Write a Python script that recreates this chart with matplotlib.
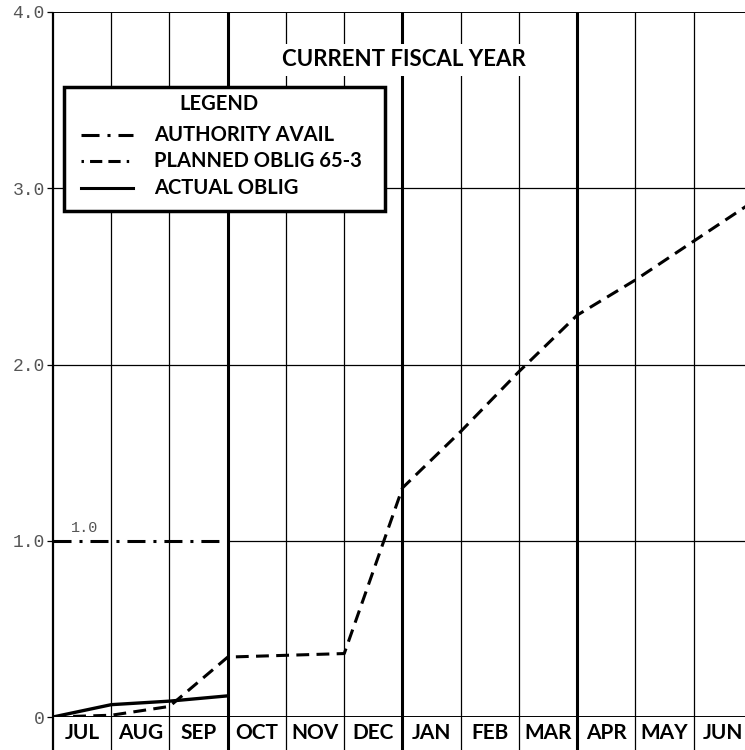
import matplotlib
matplotlib.use("Agg")
import matplotlib.pyplot as plt
from matplotlib.lines import Line2D
from matplotlib.patches import Rectangle

MONTHS = ["JUL", "AUG", "SEP", "OCT", "NOV", "DEC",
          "JAN", "FEB", "MAR", "APR", "MAY", "JUN"]

# month index (0 = start of JUL) vs cumulative amount
authority_x = [0, 3]
authority_y = [1.0, 1.0]

planned_x = [0, 1, 2, 3, 5, 6, 7, 8, 9, 10, 11, 12]
planned_y = [0.0, 0.01, 0.06, 0.34, 0.36, 1.30, 1.62, 1.96, 2.28, 2.48, 2.70, 2.92]

actual_x = [0, 1, 2, 3]
actual_y = [0.0, 0.07, 0.09, 0.12]

y_ticks = [0, 1, 2, 3, 4]
y_tick_labels = ["0", "1.0", "2.0", "3.0", "4.0"]
quarter_lines = [3, 6, 9]

legend_labels = ["AUTHORITY AVAIL", "PLANNED OBLIG 65-3", "ACTUAL OBLIG"]

BOLD = "Lato"
MONO = "Liberation Mono"

AUTH_DASH = (5.9, 2.6, 1.0, 2.6)
PLAN_DASH = (4.2, 2.4)

fig = plt.figure(figsize=(7.45, 7.5), dpi=100)
ax = fig.add_axes([53 / 745, 33 / 750, 692 / 745, 705 / 750])
ax.set_xlim(0, 11.88)
ax.set_ylim(0, 4)

# grid: thin month lines, heavy quarter lines, running into the label row
for m in range(0, 12):
    lw = 2.2 if m in quarter_lines else 0.9
    if m == 0:
        lw = 1.6
    ax.vlines(m, -0.2, 4, color="black", lw=lw, clip_on=False, zorder=1)
ax.hlines([2, 3], 0, 12, color="black", lw=0.9, zorder=1)
ax.hlines(1, 3, 12, color="black", lw=0.9, zorder=1)
ax.hlines(4, 0, 12, color="black", lw=1.4, zorder=1)
ax.hlines(0, 0, 12, color="black", lw=1.4, zorder=1)

for s in ax.spines.values():
    s.set_visible(False)

ax.set_xticks([])
ax.set_yticks(y_ticks)
ax.set_yticklabels(y_tick_labels, family=MONO, fontsize=13, color="#555555")
ax.tick_params(axis="y", length=4, width=0.9, pad=2)

for i, name in enumerate(MONTHS):
    ax.text(i + 0.5, -0.09, name, ha="center", va="center",
            family=BOLD, fontweight="bold", fontsize=15, clip_on=False)

# data lines
ax.plot(authority_x, authority_y, color="black", lw=2.2,
        dashes=AUTH_DASH, zorder=3)
ax.plot(planned_x, planned_y, color="black", lw=2.2,
        dashes=PLAN_DASH, zorder=3)
ax.plot(actual_x, actual_y, color="black", lw=2.4, zorder=3)

ax.text(0.55, 1.03, "1.0", family=MONO, fontsize=11, color="#555555",
        ha="center", va="bottom")

ax.text(6.03, 3.73, "CURRENT FISCAL YEAR", ha="center", va="center",
        family=BOLD, fontweight="bold", fontsize=16, zorder=2,
        bbox=dict(facecolor="white", edgecolor="none", pad=4))

# legend box, drawn by hand to follow the original layout
ax.add_patch(Rectangle((0.016, 0.7177), 0.4638, 0.1759, transform=ax.transAxes,
                       facecolor="white", edgecolor="black", lw=2.5,
                       zorder=5, clip_on=False))
ax.text(0.24, 0.8695, "LEGEND", transform=ax.transAxes, ha="center",
        va="center", family=BOLD, fontweight="bold", fontsize=14.5, zorder=6)
row_y = [0.8255, 0.7887, 0.7504]
sample_dash = [AUTH_DASH, (0.8, 2.0, 4.0, 2.0, 4.0, 2.0), None]
for y, label, dash in zip(row_y, legend_labels, sample_dash):
    ln = Line2D([0.0405, 0.1156], [y, y], transform=ax.transAxes,
                color="black", lw=2.2, zorder=6)
    if dash:
        ln.set_dashes(dash)
    ax.add_line(ln)
    ax.text(0.146, y, label, transform=ax.transAxes, ha="left", va="center",
            family=BOLD, fontweight="bold", fontsize=14.5, zorder=6)

fig.savefig("out.png", dpi=100, facecolor="white")
